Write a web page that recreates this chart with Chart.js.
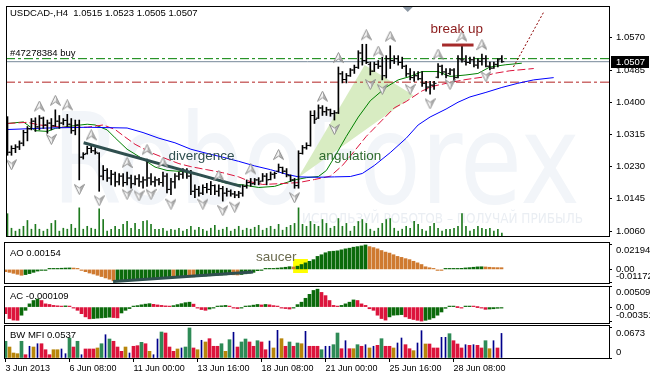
<!DOCTYPE html>
<html>
<head>
<meta charset="utf-8">
<title>USDCAD H4</title>
<script src="https://cdn.jsdelivr.net/npm/chart.js@4.4.1/dist/chart.umd.min.js"></script>
<style>
  html, body { margin: 0; padding: 0; background: #fff; }
  #wrap { position: relative; width: 650px; height: 379px; overflow: hidden; background: #fff; }
  .pane { position: absolute; left: 0; width: 650px; }
</style>
</head>
<body>
<div id="wrap">
  <div class="pane" style="top:0;height:242px"><canvas id="main"></canvas></div>
  <div class="pane" style="top:242px;height:42px"><canvas id="ao"></canvas></div>
  <div class="pane" style="top:285px;height:39px"><canvas id="ac"></canvas></div>
  <div class="pane" style="top:325px;height:54px"><canvas id="mfi"></canvas></div>
</div>
<script>
// ---- price bars (H4, from 3 Jun 2013 00:00) ----
const hi = [
  1.0362,1.0285,1.0288,1.0298,1.0326,1.0336,1.0357,1.0359,1.0365,1.0361,
  1.0353,1.0357,1.0380,1.0365,1.0357,1.0368,1.0357,1.0353,1.0353,1.0267,
  1.0284,1.0289,1.0280,1.0267,1.0233,1.0225,1.0220,1.0216,1.0212,1.0212,
  1.0216,1.0208,1.0206,1.0209,1.0203,1.0250,1.0212,1.0203,1.0199,1.0216,
  1.0212,1.0199,1.0212,1.0216,1.0225,1.0225,1.0220,1.0182,1.0178,1.0182,
  1.0186,1.0191,1.0182,1.0182,1.0178,1.0173,1.0169,1.0165,1.0165,1.0182,
  1.0195,1.0199,1.0199,1.0201,1.0212,1.0212,1.0216,1.0216,1.0237,1.0229,
  1.0225,1.0208,1.0199,1.0272,1.0286,1.0293,1.0377,1.0378,1.0393,1.0391,
  1.0387,1.0382,1.0378,1.0493,1.0481,1.0476,1.0489,1.0498,1.0536,1.0553,
  1.0553,1.0506,1.0506,1.0510,1.0519,1.0523,1.0549,1.0523,1.0523,1.0519,
  1.0498,1.0489,1.0481,1.0481,1.0481,1.0455,1.0455,1.0455,1.0502,1.0498,
  1.0489,1.0489,1.0489,1.0523,1.0549,1.0523,1.0519,1.0519,1.0515,1.0527,
  1.0523,1.0506,1.0506,1.0515,1.0523];
const lo = [
  1.0260,1.0260,1.0267,1.0275,1.0285,1.0298,1.0327,1.0323,1.0327,1.0331,
  1.0318,1.0327,1.0336,1.0331,1.0340,1.0336,1.0318,1.0314,1.0195,1.0250,
  1.0263,1.0267,1.0263,1.0165,1.0195,1.0191,1.0182,1.0178,1.0182,1.0178,
  1.0182,1.0173,1.0182,1.0178,1.0173,1.0178,1.0182,1.0178,1.0182,1.0178,
  1.0161,1.0156,1.0173,1.0195,1.0199,1.0199,1.0156,1.0148,1.0152,1.0156,
  1.0161,1.0156,1.0156,1.0152,1.0139,1.0152,1.0152,1.0148,1.0148,1.0152,
  1.0173,1.0178,1.0182,1.0182,1.0191,1.0182,1.0195,1.0199,1.0216,1.0212,
  1.0203,1.0191,1.0173,1.0173,1.0263,1.0276,1.0284,1.0344,1.0357,1.0365,
  1.0365,1.0363,1.0353,1.0370,1.0451,1.0451,1.0468,1.0476,1.0489,1.0498,
  1.0502,1.0472,1.0481,1.0489,1.0459,1.0464,1.0489,1.0502,1.0498,1.0489,
  1.0468,1.0459,1.0455,1.0459,1.0442,1.0429,1.0421,1.0434,1.0464,1.0472,
  1.0464,1.0472,1.0455,1.0464,1.0506,1.0498,1.0502,1.0493,1.0489,1.0498,
  1.0493,1.0485,1.0489,1.0493,1.0505];
const op = [
  1.0355,1.0268,1.0278,1.0282,1.0292,1.0320,1.0330,1.0350,1.0335,1.0358,
  1.0340,1.0345,1.0338,1.0350,1.0345,1.0352,1.0342,1.0325,1.0340,1.0255,
  1.0265,1.0278,1.0272,1.0265,1.0205,1.0220,1.0200,1.0210,1.0190,1.0205,
  1.0188,1.0200,1.0185,1.0198,1.0190,1.0195,1.0200,1.0190,1.0195,1.0188,
  1.0205,1.0170,1.0190,1.0205,1.0210,1.0218,1.0205,1.0165,1.0170,1.0160,
  1.0175,1.0170,1.0180,1.0165,1.0172,1.0160,1.0165,1.0158,1.0155,1.0160,
  1.0178,1.0188,1.0185,1.0195,1.0192,1.0205,1.0196,1.0210,1.0218,1.0228,
  1.0218,1.0206,1.0195,1.0180,1.0265,1.0280,1.0286,1.0365,1.0358,1.0385,
  1.0375,1.0380,1.0370,1.0372,1.0475,1.0460,1.0470,1.0485,1.0492,1.0530,
  1.0510,1.0500,1.0482,1.0500,1.0495,1.0470,1.0515,1.0510,1.0515,1.0505,
  1.0495,1.0475,1.0465,1.0470,1.0462,1.0450,1.0440,1.0445,1.0466,1.0495,
  1.0480,1.0476,1.0485,1.0465,1.0512,1.0508,1.0505,1.0512,1.0498,1.0508,
  1.0515,1.0495,1.0490,1.0500,1.0515];
const cl = [
  1.0268,1.0278,1.0282,1.0292,1.0320,1.0330,1.0350,1.0335,1.0358,1.0340,
  1.0345,1.0338,1.0350,1.0345,1.0352,1.0342,1.0325,1.0340,1.0255,1.0262,
  1.0278,1.0272,1.0268,1.0205,1.0220,1.0200,1.0210,1.0190,1.0205,1.0188,
  1.0200,1.0185,1.0198,1.0190,1.0195,1.0200,1.0190,1.0195,1.0188,1.0205,
  1.0170,1.0190,1.0205,1.0210,1.0218,1.0205,1.0165,1.0170,1.0160,1.0175,
  1.0170,1.0180,1.0165,1.0172,1.0160,1.0165,1.0158,1.0155,1.0160,1.0178,
  1.0188,1.0185,1.0195,1.0190,1.0205,1.0195,1.0210,1.0212,1.0228,1.0218,
  1.0208,1.0195,1.0180,1.0265,1.0280,1.0286,1.0365,1.0355,1.0385,1.0375,
  1.0380,1.0370,1.0372,1.0475,1.0460,1.0470,1.0485,1.0492,1.0530,1.0510,
  1.0505,1.0482,1.0500,1.0495,1.0470,1.0515,1.0510,1.0515,1.0505,1.0495,
  1.0475,1.0465,1.0470,1.0462,1.0450,1.0440,1.0445,1.0450,1.0495,1.0480,
  1.0470,1.0485,1.0465,1.0515,1.0512,1.0505,1.0512,1.0498,1.0508,1.0515,
  1.0495,1.0490,1.0500,1.0512,1.0507];
const volume = [
  23,8,5,7,10,16,7,12,7,5, 7,13,16,5,8,7,12,8,29,7,
  10,8,7,28,17,5,7,10,7,12, 15,8,13,7,15,16,12,7,7,8,
  5,7,6,8,5,7,10,6,9,7, 5,8,11,6,7,9,5,7,10,6,
  8,7,9,11,6,8,10,7,12,6, 9,11,13,29,12,10,15,12,10,17,
  13,8,10,18,10,13,5,10,15,17, 13,7,5,8,13,17,18,8,5,7,
  10,8,15,12,7,5,10,13,8,5, 7,7,8,10,23,10,5,7,10,8,
  7,8,5,7,3];

// ---- alligator lines [bar, price] ----
const jaw = [[0,1.0328],[10,1.0332],[20,1.0334],[30,1.0332],[34,1.0320],[38,1.0305],[42,1.0293],[46,1.0276],
  [50,1.0265],[54,1.0255],[58,1.0244],[62,1.0232],[66,1.0222],[70,1.0210],[73,1.0203],[78,1.0202],[82,1.0203],
  [86,1.0204],[89,1.0212],[92,1.0233],[96,1.0267],[100,1.0305],[103,1.0340],[106,1.0361],[110,1.0382],
  [113,1.0400],[116,1.0414],[120,1.0426],[124,1.0439],[128,1.0450],[132,1.0459],[137,1.0465]];
const teeth = [[0,1.0344],[5,1.0347],[8,1.0340],[14,1.0334],[20,1.0334],[24,1.0340],[27,1.0328],[29,1.0312],
  [32,1.0289],[36,1.0267],[40,1.0250],[43,1.0238],[46,1.0230],[50,1.0222],[54,1.0214],[58,1.0203],[61,1.0190],
  [64,1.0183],[68,1.0185],[73,1.0188],[77,1.0196],[81,1.0205],[84,1.0233],[86,1.0258],[90,1.0310],[94,1.0353],
  [97,1.0385],[100,1.0402],[104,1.0430],[107,1.0443],[111,1.0452],[115,1.0460],[119,1.0466],[122,1.0476],
  [126,1.0483],[132,1.0489]];
const lips = [[0,1.0344],[4,1.0348],[7,1.0325],[10,1.0323],[12,1.0331],[15,1.0336],[20,1.0342],[22,1.0340],
  [25,1.0327],[27,1.0306],[30,1.0276],[34,1.0250],[37,1.0229],[40,1.0220],[44,1.0217],[48,1.0208],[55,1.0186],
  [59,1.0182],[63,1.0175],[67,1.0178],[72,1.0195],[75,1.0201],[78,1.0204],[80,1.0220],[82,1.0255],[85,1.0310],
  [88,1.0361],[91,1.0404],[95,1.0440],[98,1.0459],[101,1.0468],[104,1.0481],[108,1.0481],[111,1.0468],
  [115,1.0472],[118,1.0476],[121,1.0493],[125,1.0499],[129,1.0503]];

// ---- fractals (bar indices) ----
const fracUp = [8,12,15,21,30,35,39,53,61,68,79,83,90,93,96,108,114,119];
const fracDn = [1,11,18,23,30,33,36,41,49,54,57,72,82,91,94,101,106,111,120];

// ---- levels and drawn objects ----
const orderPrice = 1.0515;
const stopPrice = 1.0453;
const divergence = [[19.1,1.0293],[58.6,1.0178]];
const wedge = [[72.9,1.0201],[89.6,1.0498],[101.9,1.0418]];
const breakLine = [[109,1.0551],[116.9,1.0551]];
const breakPath = [[126.9,1.0493],[134.6,1.0640]];
const shiftBar = 100.4;

// ---- oscillators ----
const aoVals = [
  -0.00202,-0.00263,-0.00351,-0.00439,-0.00527,-0.00465,-0.00378,-0.00263,-0.00149,-0.00070,
  -0.00026,0.00026,0.00053,0.00079,0.00105,0.00123,0.00132,0.00123,0.00044,-0.00088,
  -0.00202,-0.00325,-0.00413,-0.00527,-0.00641,-0.00764,-0.00878,-0.01027,-0.01010,-0.00992,
  -0.00966,-0.00948,-0.00922,-0.00904,-0.00878,-0.00852,-0.00834,-0.00808,-0.00790,-0.00764,
  -0.00738,-0.00720,-0.00729,-0.00702,-0.00676,-0.00659,-0.00667,-0.00676,-0.00650,-0.00615,
  -0.00597,-0.00571,-0.00553,-0.00527,-0.00509,-0.00492,-0.00465,-0.00483,-0.00500,-0.00457,
  -0.00395,-0.00334,-0.00263,-0.00114,-0.00053,0.00018,0.00061,0.00088,0.00114,0.00149,
  0.00193,0.00246,0.00220,0.00290,0.00439,0.00588,0.00729,0.00878,0.01168,0.01317,
  0.01493,0.01607,0.01633,0.01668,0.01756,0.01844,0.01905,0.01993,0.02046,0.02107,
  0.02194,0.02046,0.01958,0.01844,0.01695,0.01554,0.01466,0.01317,0.01168,0.01080,
  0.00966,0.00878,0.00729,0.00588,0.00439,0.00237,0.00149,0.00061,-0.00026,-0.00035,
  0.00026,0.00044,0.00061,0.00079,0.00097,0.00132,0.00158,0.00193,0.00228,0.00237,
  0.00220,0.00193,0.00167,0.00158,0.00154];
const aoDivergence = [[26.9,-0.0108],[61.9,-0.0024]];
const saucerBox = [[71.9,0.00934],[75.6,-0.00323]];
const aoLevels = [0.02194, 0, -0.01172];
const aoLevelText = ['0.02194', '0.00', '-0.01172'];

const acVals = [
  -0.00165,-0.00288,-0.00327,-0.00332,-0.00204,-0.00081,0.00081,0.00165,0.00204,0.00165,
  0.00081,0.00066,0.00042,0.00032,0.00025,0.00030,0.00012,-0.00012,-0.00081,-0.00165,
  -0.00246,-0.00295,-0.00288,-0.00278,-0.00271,-0.00263,-0.00253,-0.00263,-0.00271,-0.00148,
  -0.00081,-0.00037,0.00012,0.00037,0.00057,0.00074,0.00086,0.00069,0.00054,0.00042,
  0.00030,0.00020,0.00037,0.00062,0.00086,0.00111,0.00123,0.00074,-0.00025,-0.00062,
  -0.00081,-0.00049,-0.00012,0.00020,0.00032,0.00042,0.00025,-0.00012,-0.00037,-0.00012,
  0.00012,0.00032,0.00049,0.00066,0.00054,0.00066,0.00057,0.00037,0.00012,-0.00012,
  -0.00037,-0.00049,-0.00020,0.00062,0.00123,0.00221,0.00320,0.00418,0.00450,0.00369,
  0.00288,0.00165,0.00042,0.00017,0.00042,0.00081,0.00123,0.00180,0.00165,0.00081,
  0.00042,-0.00042,-0.00081,-0.00204,-0.00288,-0.00327,-0.00246,-0.00204,-0.00197,-0.00189,
  -0.00246,-0.00288,-0.00312,-0.00332,-0.00352,-0.00332,-0.00308,-0.00271,-0.00204,-0.00123,
  -0.00030,0.00017,0.00020,0.00000,-0.00007,0.00017,0.00025,0.00020,0.00000,-0.00025,
  -0.00057,-0.00049,-0.00042,-0.00030,-0.000109];
const acLevels = [0.005092, 0, -0.00351];
const acLevelText = ['0.005092', '0.00', '-0.00351'];

const mfiVals = [
  0.0365,0.0240,0.0109,0.0094,0.0365,0.0072,0.0256,0.0240,0.0312,0.0312,
  0.0181,0.0072,0.0181,0.0181,0.0197,0.0094,0.0437,0.0240,0.0365,0.0072,
  0.0197,0.0197,0.0197,0.0219,0.0312,0.0509,0.0415,0.0365,0.0240,0.0146,
  0.0240,0.0109,0.0256,0.0269,0.0343,0.0312,0.0146,0.0072,0.0415,0.0568,
  0.0546,0.0240,0.0146,0.0197,0.0219,0.0240,0.0656,0.0219,0.0181,0.0387,
  0.0350,0.0422,0.0256,0.0256,0.0312,0.0146,0.0400,0.0562,0.0240,0.0350,
  0.0415,0.0350,0.0256,0.0378,0.0350,0.0181,0.0371,0.0219,0.0605,0.0422,
  0.0256,0.0350,0.0256,0.0328,0.0312,0.0583,0.0256,0.0256,0.0256,0.0181,
  0.0256,0.0256,0.0291,0.0546,0.0203,0.0378,0.0203,0.0203,0.0291,0.0256,
  0.0291,0.0219,0.0256,0.0277,0.0422,0.0256,0.0256,0.0219,0.0328,0.0437,
  0.0291,0.0203,0.0160,0.0328,0.0597,0.0306,0.0306,0.0219,0.0219,0.0452,
  0.0452,0.0531,0.0378,0.0306,0.0219,0.0291,0.0277,0.0291,0.0277,0.0219,
  0.0378,0.0203,0.0378,0.0219,0.0537];
// G = green, S = squat, F = fade, B = fake
const mfiZone = [
  'G','F','F','F','G','S','B','F','B','S', 'S','S','F','F','B','B','G','S','G','B',
  'S','S','S','F','G','B','G','S','S','S', 'F','B','S','S','G','S','F','B','B','G',
  'S','S','S','F','B','G','G','S','F','B', 'F','S','S','S','G','F','G','B','S','G',
  'G','S','S','G','S','S','B','F','B','F', 'S','G','S','G','F','B','S','S','S','G',
  'B','B','G','G','S','B','S','F','G','S', 'B','F','B','S','G','S','S','F','B','B',
  'S','S','F','B','B','F','S','S','S','B', 'B','G','S','S','S','B','S','B','S','S',
  'G','F','B','S','B'];
const mfiLevels = [0.0673, 0];
const mfiLevelText = ['0.0673', '0'];

// ---- axes ----
const priceTicks = [1.0060, 1.0145, 1.0230, 1.0315, 1.0400, 1.0485, 1.0570];
const timeTicks = [0, 16, 32, 48, 64, 80, 96, 112];
const timeLabels = ['3 Jun 2013', '6 Jun 08:00', '11 Jun 00:00', '13 Jun 16:00',
  '18 Jun 08:00', '21 Jun 00:00', '25 Jun 16:00', '28 Jun 08:00'];

const FONT = '"Liberation Sans", Arial, sans-serif';
Chart.defaults.font.family = FONT;
Chart.defaults.color = '#000';

const X_MIN = -0.375, X_MAX = 150.875;
const n = hi.length - 1;
const lastClose = cl[n];
const titleText = 'USDCAD-,H4  ' + [op[n], hi[n], lo[n], cl[n]].map(v => v.toFixed(4)).join(' ');
const slogan = 'ИСПОЛЬЗУЙ РОБОТОВ – ПОЛУЧАЙ ПРИБЫЛЬ';

const GREEN = '#0b6a0b', ORANGE = '#cf7a30', RED = '#dc143c';
const zoneColor = { G: '#2e8b57', S: '#dc143c', F: '#b8860b', B: '#00008b' };

function pts(pairs) { return pairs.map(([x, y]) => ({ x, y })); }

function xAxis(show) {
  const s = {
    type: 'linear', min: X_MIN, max: X_MAX, offset: false, display: show,
    afterBuildTicks: sc => { sc.ticks = timeTicks.map(v => ({ value: v })); },
    grid: { offset: false, drawOnChartArea: false, drawTicks: true, tickLength: 4, color: '#000' },
    border: { display: false },
    ticks: {
      autoSkip: false, maxRotation: 0, minRotation: 0, align: 'start', padding: 1,
      font: { size: 9 }, callback: v => timeLabels[timeTicks.indexOf(v)]
    }
  };
  if (show) s.afterFit = sc => { sc.height = 21; sc.paddingLeft = 0; sc.paddingRight = 0; };
  return s;
}

function subY(min, max, levels) {
  return {
    position: 'right', min, max,
    afterBuildTicks: s => { s.ticks = levels.map(v => ({ value: v })); },
    afterFit: s => { s.width = 41; s.paddingTop = 0; s.paddingBottom = 0; },
    grid: { drawOnChartArea: false, tickLength: 3, color: '#000' },
    border: { display: false },
    ticks: { display: false }
  };
}

function baseOptions(padding, xShow, y, extra) {
  return {
    responsive: true, maintainAspectRatio: false, animation: false, events: [],
    layout: { padding },
    plugins: { legend: { display: false }, tooltip: { enabled: false } },
    scales: Object.assign({ x: xAxis(xShow), y }, extra || {})
  };
}

const framePlugin = {
  id: 'frame',
  afterDraw(chart) {
    const { ctx, chartArea: a } = chart;
    ctx.save();
    ctx.strokeStyle = '#000';
    ctx.lineWidth = 1;
    ctx.strokeRect(a.left + 0.5, a.top + 0.5, a.right - a.left, a.bottom - a.top);
    ctx.restore();
  }
};

function panelText(name, levels, texts, aligns, yName) {
  return {
    id: 'panelText',
    afterDraw(chart) {
      const { ctx, chartArea: a, scales: { y } } = chart;
      ctx.save();
      ctx.fillStyle = '#000';
      ctx.font = '9.5px ' + FONT;
      ctx.textAlign = 'left';
      ctx.textBaseline = 'middle';
      ctx.fillText(name, 10, yName);
      levels.forEach((v, k) => {
        const py = y.getPixelForValue(v);
        const b = aligns[k];
        ctx.textBaseline = b;
        ctx.fillText(texts[k], a.right + 7, b === 'top' ? py + 1 : b === 'bottom' ? py - 1 : py);
      });
      ctx.restore();
    }
  };
}

function arrowImg(up) {
  const c = document.createElement('canvas');
  c.width = 11; c.height = 30;
  const g = c.getContext('2d');
  if (!up) { g.translate(0, 30); g.scale(1, -1); }
  g.beginPath();
  g.moveTo(5.5, 0.5); g.lineTo(10.5, 10.5); g.lineTo(5.5, 7); g.lineTo(0.5, 10.5); g.closePath();
  const gr = g.createLinearGradient(0, 0, 11, 0);
  gr.addColorStop(0, '#e6e6e6'); gr.addColorStop(0.5, '#f6f6f6'); gr.addColorStop(0.52, '#bcbcbc'); gr.addColorStop(1, '#a4a4a4');
  g.fillStyle = gr; g.fill();
  g.strokeStyle = '#909090'; g.lineWidth = 1; g.stroke();
  return c;
}

const notes = [
  { text: 'divergence', at: [40.4, 1.0257], color: '#2f4f4f' },
  { text: 'angulation', at: [78.1, 1.0257], color: '#2e6b2e' },
  { text: 'break up', at: [106.1, 1.0592], color: '#8b1a1a' }
];

const mainDecor = {
  id: 'mainDecor',
  beforeDatasetsDraw(chart) {
    const { ctx, chartArea: a, scales: { x, y } } = chart;
    ctx.save();
    ctx.beginPath(); ctx.rect(a.left, a.top, a.right - a.left, a.bottom - a.top); ctx.clip();
    ctx.textBaseline = 'alphabetic'; ctx.textAlign = 'left';
    ctx.fillStyle = '#f2f5f9';
    ctx.font = '124px "DejaVu Sans"';
    let w = ctx.measureText('RoboForex').width;
    ctx.save(); ctx.translate(52, 203); ctx.scale(528 / w, 1); ctx.fillText('RoboForex', 0, 0); ctx.restore();
    ctx.fillStyle = '#eaeef3';
    ctx.font = '14px "DejaVu Sans"';
    w = ctx.measureText(slogan).width;
    ctx.save(); ctx.translate(302, 223); ctx.scale(281 / w, 1); ctx.fillText(slogan, 0, 0); ctx.restore();
    ctx.fillStyle = '#d8ecc2';
    ctx.beginPath();
    wedge.forEach(([i, p], k) => {
      const px = x.getPixelForValue(i), py = y.getPixelForValue(p);
      if (k) ctx.lineTo(px, py); else ctx.moveTo(px, py);
    });
    ctx.closePath(); ctx.fill();
    ctx.restore();
  },
  afterDatasetsDraw(chart) {
    const { ctx, scales: { x, y } } = chart;
    ctx.save();
    ctx.font = '13.5px ' + FONT;
    ctx.textAlign = 'left'; ctx.textBaseline = 'middle';
    notes.forEach(nt => {
      ctx.fillStyle = nt.color;
      ctx.fillText(nt.text, x.getPixelForValue(nt.at[0]), y.getPixelForValue(nt.at[1]));
    });
    ctx.restore();
  },
  afterDraw(chart) {
    const { ctx, chartArea: a, scales: { x, y } } = chart;
    ctx.save();
    ctx.font = '9.5px ' + FONT;
    ctx.textAlign = 'left'; ctx.textBaseline = 'middle';
    ctx.fillStyle = '#000';
    ctx.fillText(titleText, 10, 13);
    ctx.fillText('#47278384 buy', 10, y.getPixelForValue(orderPrice) - 5.5);
    const py = Math.round(y.getPixelForValue(lastClose));
    ctx.fillRect(a.right + 2, py - 6, 38, 12);
    ctx.fillStyle = '#fff';
    ctx.fillText(lastClose.toFixed(4), a.right + 7, py);
    const sx = x.getPixelForValue(shiftBar);
    ctx.fillStyle = '#8c98a4';
    ctx.beginPath();
    ctx.moveTo(sx - 5, a.top + 1); ctx.lineTo(sx + 5, a.top + 1); ctx.lineTo(sx, a.top + 6); ctx.closePath();
    ctx.fill();
    ctx.restore();
  }
};

function levelLine(v, color, dash) {
  return {
    type: 'line', data: [{ x: X_MIN, y: v }, { x: X_MAX, y: v }], borderColor: color,
    borderWidth: 1, borderDash: dash, pointRadius: 0, order: 9
  };
}

new Chart(document.getElementById('main'), {
  type: 'bar',
  data: {
    datasets: [
      levelLine(orderPrice, '#008000', [9, 3, 3, 3]),
      levelLine(stopPrice, '#b22222', [9, 3, 3, 3]),
      levelLine(lastClose, '#778899', []),
      { type: 'bar', data: volume.map((v, i) => ({ x: i, y: v })), yAxisID: 'yVol',
        backgroundColor: '#1f7a1f', barThickness: 1, grouped: false, order: 8 },
      { type: 'line', data: pts(jaw), borderColor: '#0000ff', borderWidth: 1, pointRadius: 0, order: 6 },
      { type: 'line', data: pts(teeth), borderColor: '#dc143c', borderWidth: 1, borderDash: [8, 3], pointRadius: 0, order: 6 },
      { type: 'line', data: pts(lips), borderColor: '#008000', borderWidth: 1, pointRadius: 0, order: 6 },
      { type: 'bar', data: hi.map((h, i) => ({ x: i, y: [lo[i], h] })), backgroundColor: '#000',
        barThickness: 1, grouped: false, order: 5 },
      { type: 'scatter', data: op.map((v, i) => ({ x: i - 0.375, y: v })), pointStyle: 'line',
        pointRadius: 1, pointBorderWidth: 1, pointBorderColor: '#000', order: 4 },
      { type: 'scatter', data: cl.map((v, i) => ({ x: i + 0.375, y: v })), pointStyle: 'line',
        pointRadius: 1, pointBorderWidth: 1, pointBorderColor: '#000', order: 4 },
      { type: 'line', data: pts(divergence), borderColor: '#2f4f4f', borderWidth: 3, pointRadius: 0, order: 3 },
      { type: 'line', data: pts(breakLine), borderColor: '#a52a2a', borderWidth: 3, pointRadius: 0, order: 3 },
      { type: 'line', data: pts(breakPath), borderColor: '#8b0000', borderWidth: 1, borderDash: [2, 2], pointRadius: 0, order: 3 },
      { type: 'scatter', data: fracUp.map(i => ({ x: i, y: hi[i] })), pointStyle: arrowImg(true), pointRadius: 5, order: 2 },
      { type: 'scatter', data: fracDn.map(i => ({ x: i, y: lo[i] })), pointStyle: arrowImg(false), pointRadius: 5, order: 2 }
    ]
  },
  options: baseOptions({ left: 4, right: 0, top: 4, bottom: 1 }, false, {
    position: 'right', min: 1.0047, max: 1.0654,
    afterBuildTicks: s => { s.ticks = priceTicks.map(v => ({ value: v })); },
    afterFit: s => { s.width = 41; s.paddingTop = 0; s.paddingBottom = 0; },
    grid: { drawOnChartArea: false, tickLength: 3, color: '#000' },
    border: { display: false },
    ticks: { padding: 4, font: { size: 9.5 }, callback: v => v.toFixed(4) }
  }, { yVol: { display: false, min: 0, max: 237 } }),
  plugins: [mainDecor, framePlugin]
});

const aoDecor = {
  id: 'aoDecor',
  beforeDatasetsDraw(chart) {
    const { ctx, scales: { x, y } } = chart;
    const x0 = x.getPixelForValue(saucerBox[0][0]), x1 = x.getPixelForValue(saucerBox[1][0]);
    const y0 = y.getPixelForValue(saucerBox[0][1]), y1 = y.getPixelForValue(saucerBox[1][1]);
    ctx.save();
    ctx.fillStyle = '#ffff00';
    ctx.fillRect(x0, y0, x1 - x0, y1 - y0);
    ctx.restore();
  },
  afterDatasetsDraw(chart) {
    const { ctx, scales: { x, y } } = chart;
    ctx.save();
    ctx.font = '13.5px ' + FONT;
    ctx.fillStyle = '#6b6b4e';
    ctx.textAlign = 'left'; ctx.textBaseline = 'middle';
    ctx.fillText('saucer', x.getPixelForValue(62.6), y.getPixelForValue(0.0111));
    ctx.restore();
  }
};

new Chart(document.getElementById('ao'), {
  type: 'bar',
  data: {
    datasets: [
      { data: aoVals.map((v, i) => ({ x: i, y: v })), barThickness: 3, grouped: false, minBarLength: 1,
        backgroundColor: aoVals.map((v, i) => (i > 0 && v > aoVals[i - 1]) ? GREEN : ORANGE), order: 5 },
      { type: 'line', data: pts(aoDivergence), borderColor: '#2f4f4f', borderWidth: 3, pointRadius: 0, order: 3 }
    ]
  },
  options: baseOptions({ left: 4, right: 0, top: 0, bottom: 1 }, false, subY(-0.0122, 0.0246, aoLevels)),
  plugins: [aoDecor, framePlugin,
    panelText('AO ' + aoVals[n].toFixed(5), aoLevels, aoLevelText, ['top', 'middle', 'bottom'], 11)]
});

new Chart(document.getElementById('ac'), {
  type: 'bar',
  data: {
    datasets: [
      { data: acVals.map((v, i) => ({ x: i, y: v })), barThickness: 3, grouped: false, minBarLength: 1,
        backgroundColor: acVals.map((v, i) => (i > 0 && v > acVals[i - 1]) ? GREEN : RED) }
    ]
  },
  options: baseOptions({ left: 4, right: 0, top: 1, bottom: 1 }, false, subY(-0.0040, 0.0053, acLevels)),
  plugins: [framePlugin,
    panelText('AC ' + acVals[n].toFixed(6), acLevels, acLevelText, ['top', 'middle', 'bottom'], 11.5)]
});

new Chart(document.getElementById('mfi'), {
  type: 'bar',
  data: {
    datasets: [
      { data: mfiVals.map((v, i) => ({ x: i, y: mfiZone[i] === 'B' ? null : v })), barThickness: 3, grouped: false,
        backgroundColor: mfiZone.map(z => zoneColor[z]) },
      { data: mfiVals.map((v, i) => ({ x: i, y: mfiZone[i] === 'B' ? v : null })), barThickness: 1, grouped: false,
        backgroundColor: zoneColor.B }
    ]
  },
  options: baseOptions({ left: 4, right: 0, top: 0, bottom: 0 }, true, subY(0, 0.0721, mfiLevels)),
  plugins: [framePlugin,
    panelText('BW MFI ' + mfiVals[n].toFixed(4), mfiLevels, mfiLevelText, ['top', 'bottom'], 10)]
});
</script>
</body>
</html>
